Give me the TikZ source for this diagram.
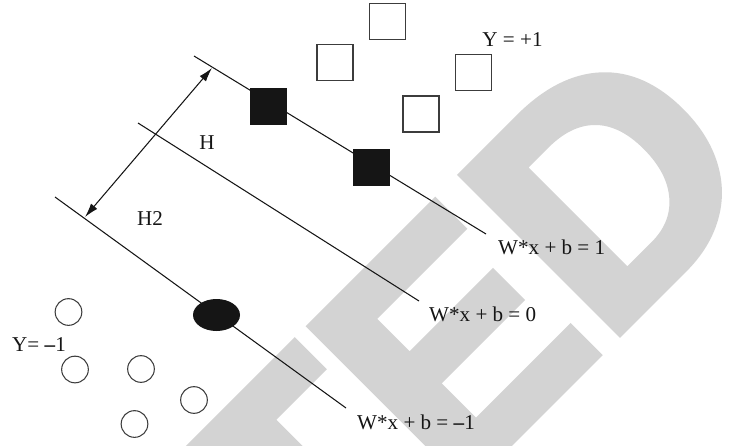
\documentclass[tikz,border=0pt]{standalone}
\usepackage{fontspec}
\setmainfont{Liberation Serif}
\newfontfamily\stampfont[BoldFeatures={FakeBold=3}]{Liberation Sans}
\usetikzlibrary{arrows.meta,shapes.geometric}
\definecolor{stampgray}{RGB}{211,211,211}
\definecolor{ink}{RGB}{21,21,21}
\definecolor{rim}{RGB}{60,60,60}
\begin{document}
\begin{tikzpicture}[x=0.03cm,y=-0.03cm,
  hyper/.style={draw=ink, line width=0.9pt},
  openbox/.style={draw=rim, fill=white, line width=0.9pt, rectangle, minimum size=1.08cm, inner sep=0pt},
  fullbox/.style={fill=ink, rectangle, minimum size=1.11cm, inner sep=0pt},
  opendot/.style={draw=rim, fill=white, line width=0.9pt, circle, minimum size=0.8cm, inner sep=0pt},
  lbl/.style={font=\fontsize{18}{20}\selectfont, inner sep=0pt, text=ink}]
\useasboundingbox (0,0) rectangle (732,445);
% background stamp
\begin{scope}
  \clip (0,0) rectangle (732,445);
  \node[rotate=45, anchor=base east, text=stampgray, inner sep=0pt,
        font=\stampfont\bfseries\fontsize{274}{274}\selectfont] (stamp) at (769,182) {RETRACTED};
\end{scope}
% hyperplane end points
\coordinate (p1a) at (194,56);  \coordinate (p1b) at (486,234);
\coordinate (p0a) at (138,123); \coordinate (p0b) at (419,301);
\coordinate (pma) at (55,197);  \coordinate (pmb) at (346,408);
\draw[hyper] (p1a) -- (p1b);
\draw[hyper] (p0a) -- (p0b);
\draw[hyper] (pma) -- (pmb);
% margin arrow
\coordinate (ma) at (212,68); \coordinate (mb) at (85,217);
\draw[hyper, {Latex[length=12pt,width=7pt]}-{Latex[length=12pt,width=7pt]}] (mb) -- (ma);
% class +1
\node[fullbox] (s1) at (268.5,106.5) {};
\node[fullbox] (s2) at (371.5,167.5) {};
\node[openbox] (b1) at (335,62.5) {};
\node[openbox] (b2) at (387.5,21.5) {};
\node[openbox] (b3) at (473.5,72.5) {};
\node[openbox] (b4) at (421,114) {};
% class -1
\node[fill=ink, ellipse, minimum width=1.41cm, minimum height=0.96cm, inner sep=0pt] (sv) at (216.5,315) {};
\node[opendot] (c1) at (68.5,312) {};
\node[opendot] (c2) at (75,369.5) {};
\node[opendot] (c3) at (141,369) {};
\node[opendot] (c4) at (194,400) {};
\node[opendot] (c5) at (134.5,424) {};
% labels
\node[lbl] (tp) at (512.5,40) {Y = +1};
\node[lbl] (tm) at (39,345) {Y= \textbf{--}1};
\node[lbl] (th) at (207,143) {H};
\node[lbl] (th2) at (150,219) {H2};
\node[lbl, anchor=west] (e1) at (498,247) {W*x + b = 1};
\node[lbl, anchor=west] (e0) at (429,314) {W*x + b = 0};
\node[lbl, anchor=west] (em) at (357,422) {W*x + b = \textbf{--}1};
\end{tikzpicture}
\end{document}
